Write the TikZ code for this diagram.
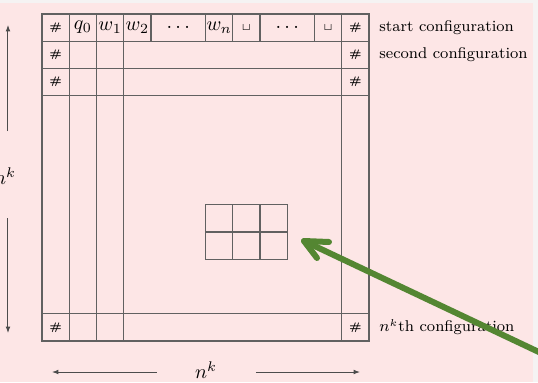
\documentclass[tikz,border=0pt]{standalone}
\usepackage{fontspec}
\usetikzlibrary{arrows.meta}
\definecolor{bgpink}{RGB}{253,230,230}
\definecolor{edgewhite}{RGB}{245,243,243}
\definecolor{arrgreen}{RGB}{84,134,50}
\tikzset{
  gridline/.style={draw=black!62,line width=0.55pt},
  cell/.style={inner sep=0pt,font=\fontsize{10}{12}\selectfont},
  hash/.style={inner sep=0pt,font=\fontsize{5.5}{6}\selectfont\bfseries},
  conf/.style={anchor=west,inner sep=0pt,font=\fontsize{7.8}{10}\selectfont},
  dimarrow/.style={draw=black!70,line width=0.5pt,-{Latex[length=3.2pt,width=2.4pt]}},
  bigarrow/.style={draw=arrgreen,line width=3pt,line cap=round,line join=round}
}
\begin{document}
\begin{tikzpicture}[x=0.5pt,y=-0.5pt]
\def\cw{27.25}
\useasboundingbox (0,0) rectangle (538,382);
\clip (0,0) rectangle (538,382);
\fill[edgewhite] (0,0) rectangle (538,382);
\fill[bgpink] (0,3) rectangle (533,382);
% grid
\draw[gridline] (42,14) rectangle (42+12*\cw,14+12*\cw);
\foreach \i in {1,2,3,11}{
  \draw[gridline] (42+\i*\cw,14) -- (42+\i*\cw,14+12*\cw);
  \draw[gridline] (42,14+\i*\cw) -- (42+12*\cw,14+\i*\cw);
}
\foreach \i in {4,6,7,8,10}{
  \draw[gridline] (42+\i*\cw,14) -- (42+\i*\cw,14+\cw);
}
% inner window
\draw[gridline] (42+6*\cw,14+7*\cw) rectangle (42+9*\cw,14+9*\cw);
\draw[gridline] (42+7*\cw,14+7*\cw) -- (42+7*\cw,14+9*\cw);
\draw[gridline] (42+8*\cw,14+7*\cw) -- (42+8*\cw,14+9*\cw);
\draw[gridline] (42+6*\cw,14+8*\cw) -- (42+9*\cw,14+8*\cw);
% first row contents
\node[hash] (h00) at (42+0.5*\cw,14+0.5*\cw) {\#};
\node[cell] (q0) at (42+1.5*\cw,14+0.5*\cw) {$q_0$};
\node[cell] (w1) at (42+2.5*\cw,14+0.5*\cw) {$w_1$};
\node[cell] (w2) at (42+3.5*\cw,14+0.5*\cw) {$w_2$};
\node[cell] (d1) at (42+5*\cw,14+0.5*\cw) {$\dots$};
\node[cell] (wn) at (42+6.5*\cw,14+0.5*\cw) {$w_n$};
\node[cell] (b1) at (42+7.5*\cw,14+0.5*\cw) {$\scriptscriptstyle\sqcup$};
\node[cell] (d2) at (42+9*\cw,14+0.5*\cw) {$\dots$};
\node[cell] (b2) at (42+10.5*\cw,14+0.5*\cw) {$\scriptscriptstyle\sqcup$};
\node[hash] (h0e) at (42+11.5*\cw,14+0.5*\cw) {\#};
\node[hash] (h10) at (42+0.5*\cw,14+1.5*\cw) {\#};
\node[hash] (h1e) at (42+11.5*\cw,14+1.5*\cw) {\#};
\node[hash] (h20) at (42+0.5*\cw,14+2.5*\cw) {\#};
\node[hash] (h2e) at (42+11.5*\cw,14+2.5*\cw) {\#};
\node[hash] (hl0) at (42+0.5*\cw,14+11.5*\cw) {\#};
\node[hash] (hle) at (42+11.5*\cw,14+11.5*\cw) {\#};
% labels
\node[conf] (c1) at (379,27.5) {start configuration};
\node[conf] (c2) at (379,54.5) {second configuration};
\node[conf] (c3) at (379,327) {$n^k$th configuration};
% dimension arrows
\node[cell] (nv) at (5,176) {$n^k$};
\coordinate (vt) at (8,25);
\coordinate (vta) at (8,131);
\coordinate (vba) at (8,218);
\coordinate (vb) at (8,333);
\draw[dimarrow] (vta) -- (vt);
\draw[dimarrow] (vba) -- (vb);
\node[cell] (nh) at (206,370) {$n^k$};
\coordinate (hl) at (52,372);
\coordinate (hla) at (157,372);
\coordinate (hra) at (256,372);
\coordinate (hr) at (360,372);
\draw[dimarrow] (hla) -- (hl);
\draw[dimarrow] (hra) -- (hr);
% green pointer
\coordinate (gtip) at (304,241);
\coordinate (gstart) at (560,362);
\coordinate (gb1) at (329,242);
\coordinate (gb2) at (317,258);
\draw[bigarrow] (gstart) -- (gtip);
\draw[bigarrow] (gb1) -- (gtip) -- (gb2);
\end{tikzpicture}
\end{document}
